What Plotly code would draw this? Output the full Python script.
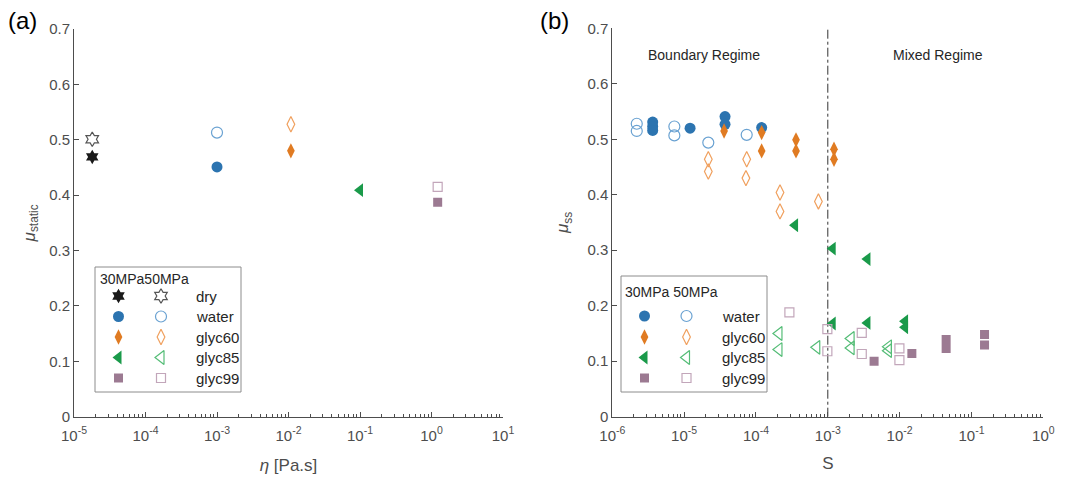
import numpy as np
import plotly.graph_objects as go

# ---------------- Data: panel (a) ----------------
fluids_a = ["dry", "water", "glyc60", "glyc85", "glyc99"]
eta_a = [1.8e-5, 1.0e-3, 1.08e-2, 1.0e-1, 1.22]
mu_static_30 = [0.469, 0.451, 0.480, 0.409, 0.387]
mu_static_50 = [0.501, 0.513, 0.528, None, 0.415]

# ---------------- Data: panel (b) ----------------
S_water_30 = [3.65e-6, 3.65e-6, 3.65e-6, 1.21e-5, 3.71e-5, 3.71e-5, 1.20e-4]
mu_water_30 = [0.531, 0.523, 0.516, 0.520, 0.541, 0.527, 0.521]
S_water_50 = [2.19e-6, 2.19e-6, 7.31e-6, 7.31e-6, 2.17e-5, 7.43e-5]
mu_water_50 = [0.528, 0.515, 0.523, 0.507, 0.494, 0.508]

S_glyc60_30 = [3.60e-5, 1.20e-4, 1.20e-4, 3.61e-4, 3.61e-4, 1.22e-3, 1.22e-3]
mu_glyc60_30 = [0.515, 0.512, 0.479, 0.499, 0.479, 0.482, 0.464]
S_glyc60_50 = [2.17e-5, 2.17e-5, 7.43e-5, 7.25e-5, 2.16e-4, 2.16e-4, 7.40e-4]
mu_glyc60_50 = [0.464, 0.442, 0.464, 0.430, 0.404, 0.370, 0.388]

S_glyc85_30 = [3.50e-4, 1.17e-3, 3.56e-3, 1.17e-3, 3.56e-3, 1.19e-2, 1.19e-2]
mu_glyc85_30 = [0.345, 0.303, 0.284, 0.168, 0.169, 0.172, 0.161]
S_glyc85_50 = [2.09e-4, 2.09e-4, 7.02e-4, 2.11e-3, 2.11e-3, 6.98e-3, 6.98e-3]
mu_glyc85_50 = [0.150, 0.121, 0.125, 0.141, 0.124, 0.126, 0.119]

S_glyc99_30 = [4.41e-3, 1.48e-2, 4.44e-2, 4.44e-2, 1.52e-1, 1.52e-1]
mu_glyc99_30 = [0.100, 0.114, 0.139, 0.123, 0.148, 0.129]
S_glyc99_50 = [2.92e-4, 9.86e-4, 9.86e-4, 2.97e-3, 2.97e-3, 9.93e-3, 9.93e-3]
mu_glyc99_50 = [0.188, 0.158, 0.118, 0.151, 0.113, 0.123, 0.102]

S_boundary = 1e-3

x_exp_a = [-5, -4, -3, -2, -1, 0, 1]
x_exp_b = [-6, -5, -4, -3, -2, -1, 0]
minor_mult = [2, 3, 4, 5, 6, 7, 8, 9]

# ---------------- Styles ----------------
FONT = "Liberation Sans, Arial, sans-serif"
fill_col = {"dry": "#1a1a1a", "water": "#2c74b0", "glyc60": "#e07b22",
            "glyc85": "#1a9a4a", "glyc99": "#9c7a92"}
open_col = {"dry": "#555555", "water": "#6aa2d2", "glyc60": "#f0a05e",
            "glyc85": "#55bd77", "glyc99": "#c2a6ba"}
sym_fill = {"dry": "hexagram", "water": "circle", "glyc60": "diamond-tall",
            "glyc85": "triangle-left", "glyc99": "square"}
sym_size = {"dry": 11, "water": 11, "glyc60": 11, "glyc85": 12, "glyc99": 9}

fig = go.Figure()


def mk(fluid, filled):
    if filled:
        return dict(symbol=sym_fill[fluid], size=sym_size[fluid],
                    color=fill_col[fluid], line=dict(width=0))
    return dict(symbol=sym_fill[fluid] + "-open", size=sym_size[fluid],
                color=open_col[fluid], line=dict(width=1.2))


# panel (a)
for i, f in enumerate(fluids_a):
    fig.add_trace(go.Scatter(x=[eta_a[i]], y=[mu_static_30[i]], mode="markers",
                             marker=mk(f, True), xaxis="x", yaxis="y",
                             showlegend=False))
    if mu_static_50[i] is not None:
        fig.add_trace(go.Scatter(x=[eta_a[i]], y=[mu_static_50[i]], mode="markers",
                                 marker=mk(f, False), xaxis="x", yaxis="y",
                                 showlegend=False))

# panel (b)
fig.add_trace(go.Scatter(x=[S_boundary, S_boundary], y=[0, 0.7], mode="lines",
                         line=dict(color="#333333", width=1, dash="dashdot"),
                         xaxis="x2", yaxis="y2", showlegend=False))
series_b = [
    ("water", True, S_water_30, mu_water_30), ("water", False, S_water_50, mu_water_50),
    ("glyc60", False, S_glyc60_50, mu_glyc60_50), ("glyc60", True, S_glyc60_30, mu_glyc60_30),
    ("glyc85", False, S_glyc85_50, mu_glyc85_50), ("glyc85", True, S_glyc85_30, mu_glyc85_30),
    ("glyc99", False, S_glyc99_50, mu_glyc99_50), ("glyc99", True, S_glyc99_30, mu_glyc99_30),
]
for f, filled, xs, ys in series_b:
    fig.add_trace(go.Scatter(x=xs, y=ys, mode="markers", marker=mk(f, filled),
                             xaxis="x2", yaxis="y2", showlegend=False))

# ---------------- Layout helpers (pixel -> paper) ----------------
W, H = 1077, 482
ML, MR, MT, MB = 60, 20, 20, 60
OFF = 8  # page body offset


def px_x(p):
    return (p - OFF - ML) / (W - ML - MR)


def px_y(p):
    return (H - MB - (p - OFF)) / (H - MT - MB)


shapes = []
annotations = []


def legend(box, fluids, xax, yax, title, rows_y, x_fill, x_open, x_lab, title_x, title_y):
    x0, y0, x1, y1 = box
    shapes.append(dict(type="rect", xref="paper", yref="paper",
                       x0=px_x(x0), x1=px_x(x1), y0=px_y(y1), y1=px_y(y0),
                       line=dict(color="#8c8c8c", width=1), fillcolor="white",
                       layer="below"))
    annotations.append(dict(text=title, xref="paper", yref="paper",
                            x=px_x(title_x), y=px_y(title_y), xanchor="left",
                            yanchor="middle", showarrow=False,
                            font=dict(family=FONT, size=14, color="#262626")))
    for f, ry in zip(fluids, rows_y):
        fig.add_trace(go.Scatter(x=[x_fill], y=[ry], mode="markers", marker=mk(f, True),
                                 xaxis=xax, yaxis=yax, showlegend=False, hoverinfo="skip"))
        fig.add_trace(go.Scatter(x=[x_open], y=[ry], mode="markers", marker=mk(f, False),
                                 xaxis=xax, yaxis=yax, showlegend=False, hoverinfo="skip"))
        annotations.append(dict(text=f, xref="paper", yref="paper", x=px_x(x_lab),
                                y=px_y(ry), xanchor="left", yanchor="middle",
                                showarrow=False,
                                font=dict(family=FONT, size=15, color="#262626")))


legend((95, 267, 241, 392), fluids_a, "x3", "y3", "30MPa50MPa",
       [296, 316.5, 337, 357.5, 378], 118.5, 161, 194, 98, 279)
legend((621, 276, 767, 392), ["water", "glyc60", "glyc85", "glyc99"], "x4", "y4",
       "30MPa 50MPa", [316, 337, 357.5, 378], 644.5, 686.5, 720, 623, 292)

# ---------------- Axes ----------------
tickfont = dict(family=FONT, size=15, color="#4d4d4d")


def log_axis(exps):
    minor_vals = [m * 10.0 ** e for e in exps[:-1] for m in minor_mult]
    return dict(type="log", showline=True, linecolor="#4d4d4d", linewidth=1,
                ticks="inside", ticklen=5, tickcolor="#4d4d4d",
                showgrid=False, zeroline=False, automargin=False,
                tickfont=tickfont, range=[exps[0], exps[-1]], ticklabelstandoff=5,
                tickmode="array", tickvals=[10.0 ** e for e in exps],
                ticktext=["10<sup>%d</sup>" % e for e in exps],
                minor=dict(ticks="inside", ticklen=3, tickcolor="#4d4d4d",
                           showgrid=False, tickmode="array", tickvals=minor_vals))


common_y = dict(range=[0, 0.7], dtick=0.1, showline=True, linecolor="#4d4d4d",
                linewidth=1, ticks="inside", ticklen=5, tickcolor="#4d4d4d",
                showgrid=False, zeroline=False, tickfont=tickfont, automargin=False)

title_font = dict(family=FONT, size=17, color="#4d4d4d")


def xdom(a, b):
    return [px_x(a), px_x(b)]


def ydom(a, b):
    return [px_y(b), px_y(a)]


fig.update_layout(
    width=W, height=H, margin=dict(l=ML, r=MR, t=MT, b=MB, autoexpand=False),
    paper_bgcolor="white", plot_bgcolor="rgba(0,0,0,0)",
    font=dict(family=FONT, color="#262626"),
    xaxis=dict(log_axis(x_exp_a), domain=xdom(74, 503), anchor="y",
               title=dict(text="<i>η</i> [Pa.s]", standoff=16, font=title_font)),
    yaxis=dict(common_y, domain=ydom(29, 416.7), anchor="x",
               title=dict(text="<i>μ</i><sub>static</sub>", standoff=9, font=title_font)),
    xaxis2=dict(log_axis(x_exp_b), domain=xdom(612.3, 1043.3), anchor="y2",
                title=dict(text="S", standoff=14, font=title_font)),
    yaxis2=dict(common_y, domain=ydom(28.3, 416.7), anchor="x2",
                title=dict(text="<i>μ</i><sub>ss</sub>", standoff=14, font=title_font)),
    xaxis3=dict(range=[95, 241], domain=xdom(95, 241), anchor="y3", visible=False,
                fixedrange=True),
    yaxis3=dict(range=[392, 267], domain=ydom(267, 392), anchor="x3", visible=False,
                fixedrange=True),
    xaxis4=dict(range=[621, 767], domain=xdom(621, 767), anchor="y4", visible=False,
                fixedrange=True),
    yaxis4=dict(range=[392, 276], domain=ydom(276, 392), anchor="x4", visible=False,
                fixedrange=True),
    shapes=shapes,
)

annotations += [
    dict(text="(a)", xref="paper", yref="paper", x=px_x(6), y=px_y(20), xanchor="left",
         yanchor="middle", showarrow=False, font=dict(family=FONT, size=24, color="black")),
    dict(text="(b)", xref="paper", yref="paper", x=px_x(538), y=px_y(20), xanchor="left",
         yanchor="middle", showarrow=False, font=dict(family=FONT, size=24, color="black")),
    dict(text="Boundary Regime", xref="x2", yref="y2", x=np.log10(1.9e-5), y=0.652,
         showarrow=False, font=dict(family=FONT, size=14, color="#262626")),
    dict(text="Mixed Regime", xref="x2", yref="y2", x=np.log10(3.4e-2), y=0.652,
         showarrow=False, font=dict(family=FONT, size=14, color="#262626")),
]
fig.update_layout(annotations=annotations)

fig.write_html("out.html")
